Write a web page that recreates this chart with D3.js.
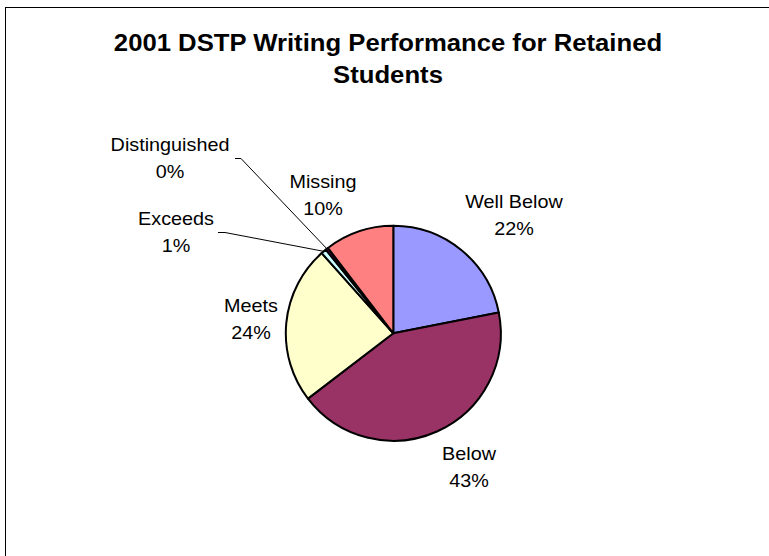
<!DOCTYPE html>
<html>
<head>
<meta charset="utf-8">
<script src="https://cdn.jsdelivr.net/npm/d3@7"></script>
<style>
  html, body { margin: 0; padding: 0; background: #fff; }
  svg { display: block; }
  text { font-family: Arial, "Liberation Sans", sans-serif; fill: #000; }
</style>
</head>
<body>
<svg id="chart" width="769" height="556"></svg>
<script>
// ---- data ----
const categories = ["Well Below", "Below", "Meets", "Exceeds", "Distinguished", "Missing"];
const values = [21.9, 42.7, 23.8, 0.8, 0.4, 10.4];
const colors = ["#9999FF", "#993366", "#FFFFCC", "#CCFFFF", "#660066", "#FF8080"];
const titleLines = ["2001 DSTP Writing Performance for Retained", "Students"];

// ---- layout (label anchors: center x, first-line baseline) ----
const labelAnchors = [[514, 208], [469, 460], [251, 312], [176, 225], [170, 151], [323, 188]];
const leaderStarts = { 3: [[218, 232.5], [225, 232.5]], 4: [[235, 158.5], [241, 158.5]] };
const cx = 393.3, cy = 333.3, R = 107.5;

const svg = d3.select("#chart");

// border
svg.append("rect")
  .attr("x", 5.5).attr("y", 7.5).attr("width", 900).attr("height", 700)
  .attr("fill", "none").attr("stroke", "#000").attr("stroke-width", 1);

// title
titleLines.forEach((t, i) => {
  svg.append("text")
    .attr("transform", `translate(388,${51 + i * 32}) scale(1.07,1)`)
    .attr("text-anchor", "middle")
    .attr("font-size", "24px")
    .attr("font-weight", "bold")
    .text(t);
});

const total = d3.sum(values);
const data = categories.map((c, i) => ({ cat: c, value: values[i], i }));
const pie = d3.pie().value(d => d.value).sort(null).startAngle(0).endAngle(2 * Math.PI);
const arcs = pie(data);
const arc = d3.arc().innerRadius(0).outerRadius(R);

const g = svg.append("g").attr("transform", `translate(${cx},${cy})`);
g.selectAll("path").data(arcs).enter().append("path")
  .attr("d", arc)
  .attr("fill", d => colors[d.data.i])
  .attr("stroke", "#000")
  .attr("stroke-width", 2)
  .attr("stroke-linejoin", "round");

// leader lines
arcs.forEach(a => {
  const starts = leaderStarts[a.data.i];
  if (!starts) return;
  const mid = (a.startAngle + a.endAngle) / 2;
  const ex = cx + R * Math.sin(mid), ey = cy - R * Math.cos(mid);
  const pts = starts.concat([[ex, ey]]);
  svg.append("path")
    .attr("d", d3.line()(pts))
    .attr("fill", "none")
    .attr("stroke", "#000")
    .attr("stroke-width", 1);
});

// labels
arcs.forEach(a => {
  const [lx, ly] = labelAnchors[a.data.i];
  const pct = Math.round(a.data.value / total * 100) + "%";
  [a.data.cat, pct].forEach((t, k) => {
    svg.append("text")
      .attr("transform", `translate(${lx},${ly + k * 27}) scale(1.1,1)`)
      .attr("text-anchor", "middle")
      .attr("font-size", "18px")
      .text(t);
  });
});
</script>
</body>
</html>
